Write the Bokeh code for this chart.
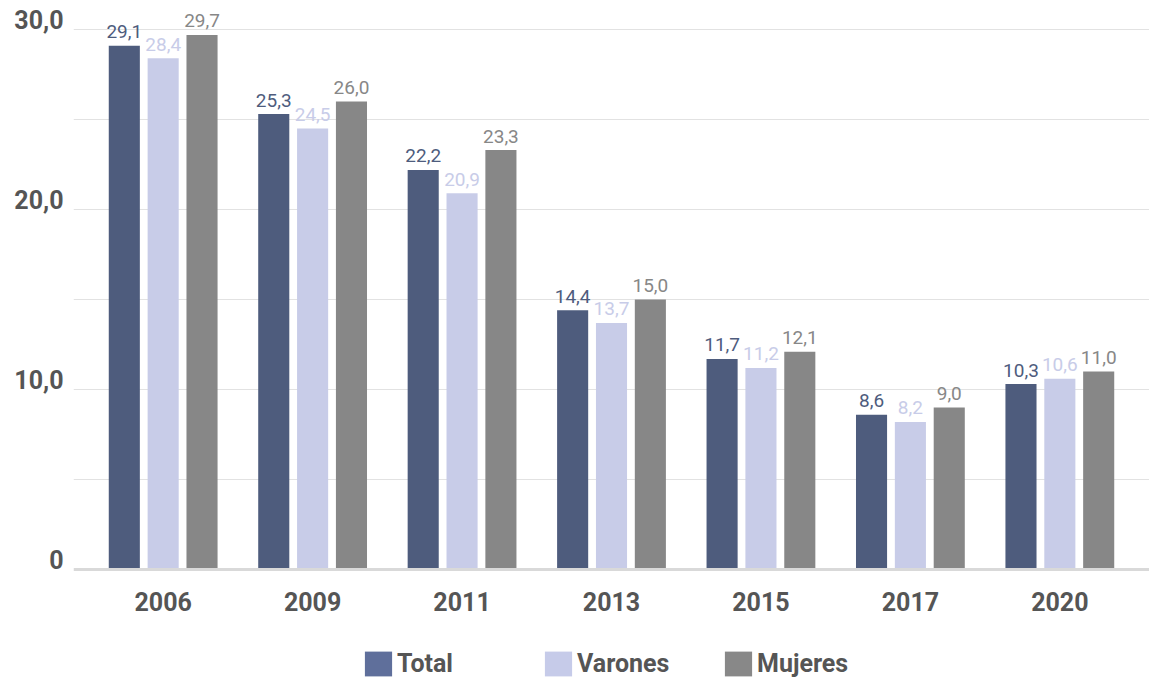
from bokeh.plotting import figure
from bokeh.models import (ColumnDataSource, FactorRange, Range1d, FixedTicker,
                          Legend, LegendItem, Span, LinearAxis)
from bokeh.transform import dodge
from bokeh.core.properties import value
from bokeh.embed import file_html
from bokeh.resources import INLINE

# Percentages by year and sex
years = ["2006", "2009", "2011", "2013", "2015", "2017", "2020"]
total = [29.1, 25.3, 22.2, 14.4, 11.7, 8.6, 10.3]
varones = [28.4, 24.5, 20.9, 13.7, 11.2, 8.2, 10.6]
mujeres = [29.7, 26.0, 23.3, 15.0, 12.1, 9.0, 11.0]

y_ticks = [0, 10, 20, 30]
y_tick_labels = ["0", "10,0", "20,0", "30,0"]
grid_ticks = [5, 10, 15, 20, 25, 30]

series = [
    ("Total", total, -0.26, "#4e5c7d", "#5f6f9b"),
    ("Varones", varones, 0.0, "#c8cce8", "#c6cbe9"),
    ("Mujeres", mujeres, 0.26, "#878787", "#888888"),
]


def fmt(v):
    return f"{v:.1f}".replace(".", ",")


# 18 px per unit; the plotting area also holds the year labels and legend
PX = 18.0
y_start, y_end = -110 / PX, 569 / PX
# tick labels sit on their gridline rather than centred on it
LABEL_LIFT = 0.53

p = figure(
    x_range=FactorRange(factors=years, range_padding=0.1,
                        range_padding_units="absolute"),
    y_range=Range1d(y_start, y_end),
    width=1149, height=679,
    output_backend="svg", toolbar_location=None,
    min_border_left=73, min_border_right=0,
    min_border_top=0, min_border_bottom=0,
)
p.extra_y_ranges = {"labels": Range1d(y_start - LABEL_LIFT, y_end - LABEL_LIFT)}
p.outline_line_color = None
p.background_fill_color = "white"
p.xaxis.visible = False
p.yaxis.visible = False

# grid
p.xgrid.grid_line_color = None
p.ygrid.ticker = FixedTicker(ticks=grid_ticks)
p.ygrid.grid_line_color = "#e2e2e2"
p.ygrid.grid_line_width = 1

# baseline
p.add_layout(Span(location=0, dimension="width", line_color="#d9d9d9",
                  line_width=3))

legend_items = []
for name, vals, offset, color, swatch in series:
    src = ColumnDataSource(dict(year=years, v=vals, lab=[fmt(v) for v in vals]))
    p.vbar(x=dodge("year", offset, range=p.x_range), top="v", bottom=0,
           width=0.208, source=src, fill_color=color, line_color=None)
    p.text(x=dodge("year", offset, range=p.x_range), y="v", text="lab",
           source=src, text_align="center", text_baseline="alphabetic",
           y_offset=-14, text_font=value("Roboto"), text_font_size="19px",
           text_color=color)
    # zero-height proxy bar that only supplies the legend swatch colour
    sw = p.vbar(x=[years[0]], top=[0], bottom=[0], width=0.2,
                fill_color=swatch, line_color=None)
    legend_items.append(LegendItem(label=name, renderers=[sw]))

# year labels under the baseline
p.text(x=years, y=[0] * len(years), text=years, text_align="center",
       text_baseline="alphabetic", y_offset=32, text_font=value("Roboto"),
       text_font_style="bold", text_font_size="25px", text_color="#555555")

legend = Legend(
    items=legend_items, orientation="horizontal",
    location=(288, 0),
    glyph_width=34, glyph_height=31, label_height=31,
    label_width=144, label_standoff=2, spacing=0,
    padding=0, margin=0,
    label_text_font="Roboto", label_text_font_style="bold",
    label_text_font_size="25px", label_text_color="#555555",
    border_line_color=None, background_fill_alpha=0,
)
p.add_layout(legend, "center")

# y axis
yaxis = LinearAxis(y_range_name="labels", ticker=FixedTicker(ticks=y_ticks))
yaxis.major_label_overrides = dict(zip(y_ticks, y_tick_labels))
yaxis.axis_line_color = None
yaxis.major_tick_line_color = None
yaxis.minor_tick_line_color = None
yaxis.major_tick_out = 0
yaxis.major_label_standoff = 10
yaxis.major_label_text_font = "Roboto"
yaxis.major_label_text_font_style = "bold"
yaxis.major_label_text_font_size = "25px"
yaxis.major_label_text_color = "#555555"
p.add_layout(yaxis, "left")

open("out.html", "w").write(file_html(p, INLINE))
